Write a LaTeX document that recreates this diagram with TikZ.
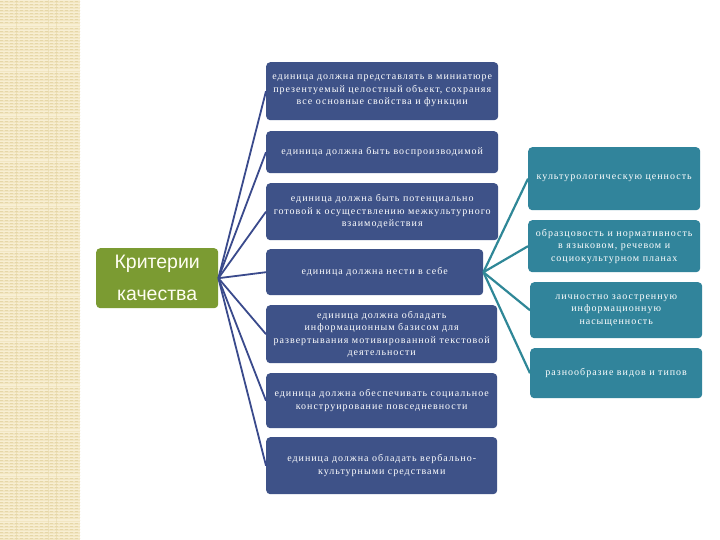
\documentclass[tikz,border=0pt]{standalone}
\usepackage{fontspec}
\setmainfont{Liberation Serif}
\newfontfamily\boxfont[LetterSpace=10]{Liberation Serif}
\newfontfamily\sansf{Liberation Sans}
\definecolor{boxblue}{HTML}{3E5288}
\definecolor{boxteal}{HTML}{31849B}
\definecolor{boxgreen}{HTML}{7B9B32}
\definecolor{lineblue}{HTML}{3A4A8C}
\definecolor{lineteal}{HTML}{2F8797}
\definecolor{stripe}{HTML}{F2E6C2}
\definecolor{stripelt}{HTML}{F8EFD4}
\definecolor{stripedk}{HTML}{E6D7A8}
\begin{document}
\begin{tikzpicture}[x=1pt,y=-1pt,
  bx/.style={draw=none,rounded corners=4pt,anchor=north west,inner sep=2pt,align=center,
    text=white,font=\boxfont\fontsize{10}{12.5}\selectfont},
  bluebox/.style={bx,fill=boxblue},
  tealbox/.style={bx,fill=boxteal},
  bl/.style={draw=lineblue,line width=1.8pt},
  tl/.style={draw=lineteal,line width=2.2pt}]
\useasboundingbox (0,0) rectangle (720,540);
\fill[white] (0,0) rectangle (720,540);
% decorative stripe
\fill[stripe] (0,0) rectangle (80,540);
\foreach \y in {0,3,...,540} {\draw[stripelt,line width=0.8pt] (0,\y) -- (80,\y);}
\foreach \y in {1.5,4.5,...,540} {\draw[stripedk,line width=0.5pt,dash pattern=on 3pt off 2pt] (0,\y) -- (80,\y);}
\foreach \y in {25,70,115,160,205,250,295,340,385,430,475,520} {\draw[stripelt,line width=1.5pt] (0,\y) -- (80,\y);}
\foreach \x in {16,48,56} {\draw[stripedk,line width=0.4pt,opacity=0.5] (\x,0) -- (\x,540);}
% green box
\node[bx,fill=boxgreen,minimum width=122pt,minimum height=60pt,text=white!95!yellow,
  font=\sansf\fontsize{19.5}{32}\selectfont] (crit) at (96,248) {Критерии\\качества};
% middle boxes
\node[bluebox,minimum width=232pt,minimum height=58pt] (b1) at (266,62)
  {единица должна представлять в миниатюре\\презентуемый целостный объект, сохраняя\\все основные свойства и функции};
\node[bluebox,minimum width=232pt,minimum height=42pt] (b2) at (266,131)
  {единица должна быть воспроизводимой};
\node[bluebox,minimum width=232pt,minimum height=57pt] (b3) at (266,183)
  {единица должна быть потенциально\\готовой к осуществлению межкультурного\\взаимодействия};
\node[bluebox,minimum width=217pt,minimum height=46pt] (b4) at (266,249)
  {единица должна нести в себе};
\node[bluebox,minimum width=231pt,minimum height=58pt] (b5) at (266,305)
  {единица должна обладать\\информационным базисом для\\развертывания мотивированной текстовой\\деятельности};
\node[bluebox,minimum width=231pt,minimum height=55pt] (b6) at (266,373)
  {единица должна обеспечивать социальное\\конструирование повседневности};
\node[bluebox,minimum width=231pt,minimum height=57pt] (b7) at (266,437)
  {единица должна обладать вербально-\\культурными средствами};
% right boxes
\node[tealbox,minimum width=172pt,minimum height=63pt] (r1) at (528,147)
  {культурологическую ценность};
\node[tealbox,minimum width=172pt,minimum height=52pt] (r2) at (528,220)
  {образцовость и нормативность\\в языковом, речевом и\\социокультурном планах};
\node[tealbox,minimum width=172pt,minimum height=56pt] (r3) at (530,282)
  {личностно заостренную\\информационную\\насыщенность};
\node[tealbox,minimum width=172pt,minimum height=50pt] (r4) at (530,348)
  {разнообразие видов и типов};
% connectors
\foreach \b in {b1,b2,b3,b4,b5,b6,b7} {\draw[bl] (crit.east) -- (\b.west);}
\foreach \r in {r1,r2,r3,r4} {\draw[tl] (b4.east) -- (\r.west);}
\end{tikzpicture}
\end{document}
